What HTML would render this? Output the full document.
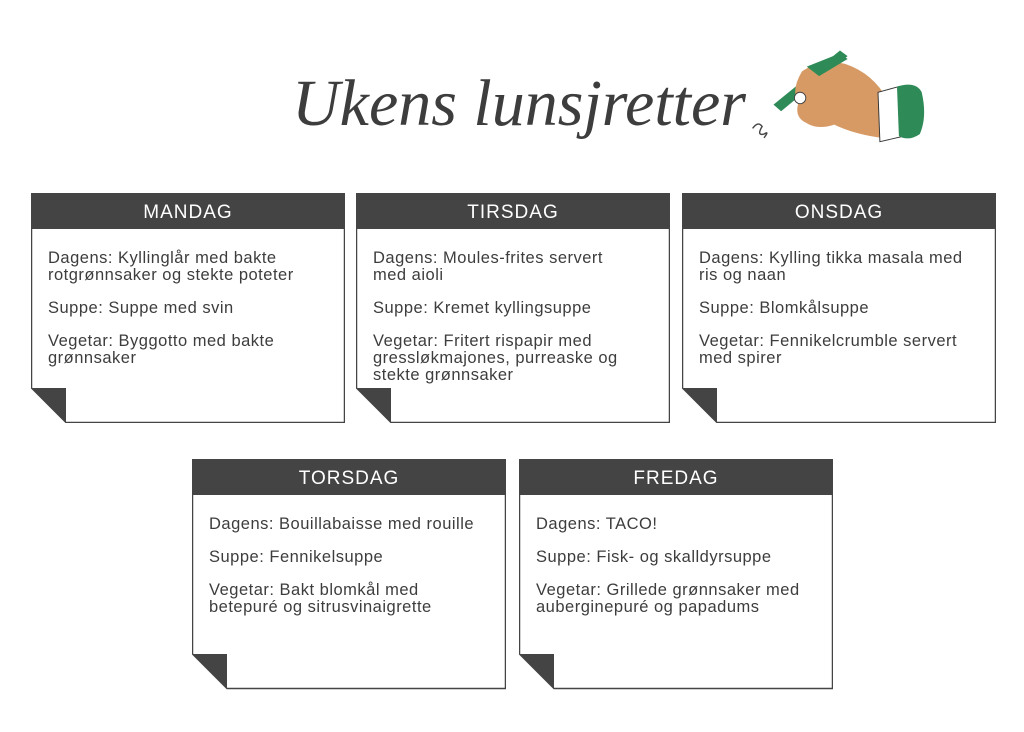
<!DOCTYPE html>
<html><head><meta charset="utf-8"><style>
body{margin:0;width:1024px;height:732px;background:#fff;position:relative;overflow:hidden;font-family:"Liberation Sans",sans-serif;color:#3d3d3d}
.card{position:absolute;width:314px;height:230px}
.card svg{position:absolute;left:0;top:0}
.h{position:absolute;left:0;top:0;width:314px;height:36px;line-height:40px;text-align:center;color:#fff;font-size:19px;letter-spacing:1px}
.t{position:absolute;left:17px;top:57px;width:295px;font-size:16.5px;line-height:17px;letter-spacing:0.5px}
.t p{margin:0 0 16px}
.title{position:absolute;left:292px;top:66px;font-family:"Liberation Serif",serif;font-style:italic;font-size:66px;color:#3d3d3d;font-weight:normal}
</style></head><body>
<div class="title">Ukens lunsjretter</div>
<svg style="position:absolute;left:745px;top:40px" width="190" height="115" viewBox="0 0 200 115">
<path d="M8 90 q6 -8 10 -2 q-6 10 2 8 q6 -4 0 4" fill="none" stroke="#444" stroke-width="1.5"/>
<path d="M30 65 L100 8 L108 14 L38 72 Z" fill="#2e8b57"/>
<path d="M60 30 q20 -14 45 -8 q30 10 45 38 l-6 40 q-30 -4 -50 -14 q-18 6 -30 -2 q-12 -6 -8 -20 q-8 -14 4 -34z" fill="#d79a64"/>
<path d="M65 25 l35 -14 l8 6 l-30 18z" fill="#2e8b57"/>
<circle cx="58" cy="58" r="6" fill="#fff" stroke="#444"/>
<path d="M140 52 l22 -6 l6 52 l-26 6 z" fill="#fff" stroke="#333" stroke-width="1"/>
<path d="M160 46 q20 -6 26 6 q6 26 -2 44 q-12 8 -22 2 z" fill="#2e8b57"/>
</svg>

<div class="card" style="left:31px;top:193px">
<svg width="314" height="230"><path d="M0.5 0.5 H313.5 V229.5 H35 L0.5 195 Z" fill="#fff" stroke="#444" stroke-width="1.5"/><rect x="0" y="0" width="314" height="36" fill="#444"/><path d="M0 195 H35 V229.5 Z" fill="#444"/></svg>
<div class="h">MANDAG</div>
<div class="t"><p>Dagens: Kyllinglår med bakte<br>rotgrønnsaker og stekte poteter</p><p>Suppe: Suppe med svin</p><p>Vegetar: Byggotto med bakte<br>grønnsaker</p></div></div>

<div class="card" style="left:356px;top:193px">
<svg width="314" height="230"><path d="M0.5 0.5 H313.5 V229.5 H35 L0.5 195 Z" fill="#fff" stroke="#444" stroke-width="1.5"/><rect x="0" y="0" width="314" height="36" fill="#444"/><path d="M0 195 H35 V229.5 Z" fill="#444"/></svg>
<div class="h">TIRSDAG</div>
<div class="t"><p>Dagens: Moules-frites servert<br>med aioli</p><p>Suppe: Kremet kyllingsuppe</p><p>Vegetar: Fritert rispapir med<br>gressløkmajones, purreaske og<br>stekte grønnsaker</p></div></div>

<div class="card" style="left:682px;top:193px">
<svg width="314" height="230"><path d="M0.5 0.5 H313.5 V229.5 H35 L0.5 195 Z" fill="#fff" stroke="#444" stroke-width="1.5"/><rect x="0" y="0" width="314" height="36" fill="#444"/><path d="M0 195 H35 V229.5 Z" fill="#444"/></svg>
<div class="h">ONSDAG</div>
<div class="t"><p>Dagens: Kylling tikka masala med<br>ris og naan</p><p>Suppe: Blomkålsuppe</p><p>Vegetar: Fennikelcrumble servert<br>med spirer</p></div></div>

<div class="card" style="left:192px;top:459px">
<svg width="314" height="231"><path d="M0.5 0.5 H313.5 V229.5 H35 L0.5 195 Z" fill="#fff" stroke="#444" stroke-width="1.5"/><rect x="0" y="0" width="314" height="36" fill="#444"/><path d="M0 195 H35 V229.5 Z" fill="#444"/></svg>
<div class="h">TORSDAG</div>
<div class="t"><p>Dagens: Bouillabaisse med rouille</p><p>Suppe: Fennikelsuppe</p><p>Vegetar: Bakt blomkål med<br>betepuré og sitrusvinaigrette</p></div></div>

<div class="card" style="left:519px;top:459px">
<svg width="314" height="231"><path d="M0.5 0.5 H313.5 V229.5 H35 L0.5 195 Z" fill="#fff" stroke="#444" stroke-width="1.5"/><rect x="0" y="0" width="314" height="36" fill="#444"/><path d="M0 195 H35 V229.5 Z" fill="#444"/></svg>
<div class="h">FREDAG</div>
<div class="t"><p>Dagens: TACO!</p><p>Suppe: Fisk- og skalldyrsuppe</p><p>Vegetar: Grillede grønnsaker med<br>auberginepuré og papadums</p></div></div>
</body></html>
